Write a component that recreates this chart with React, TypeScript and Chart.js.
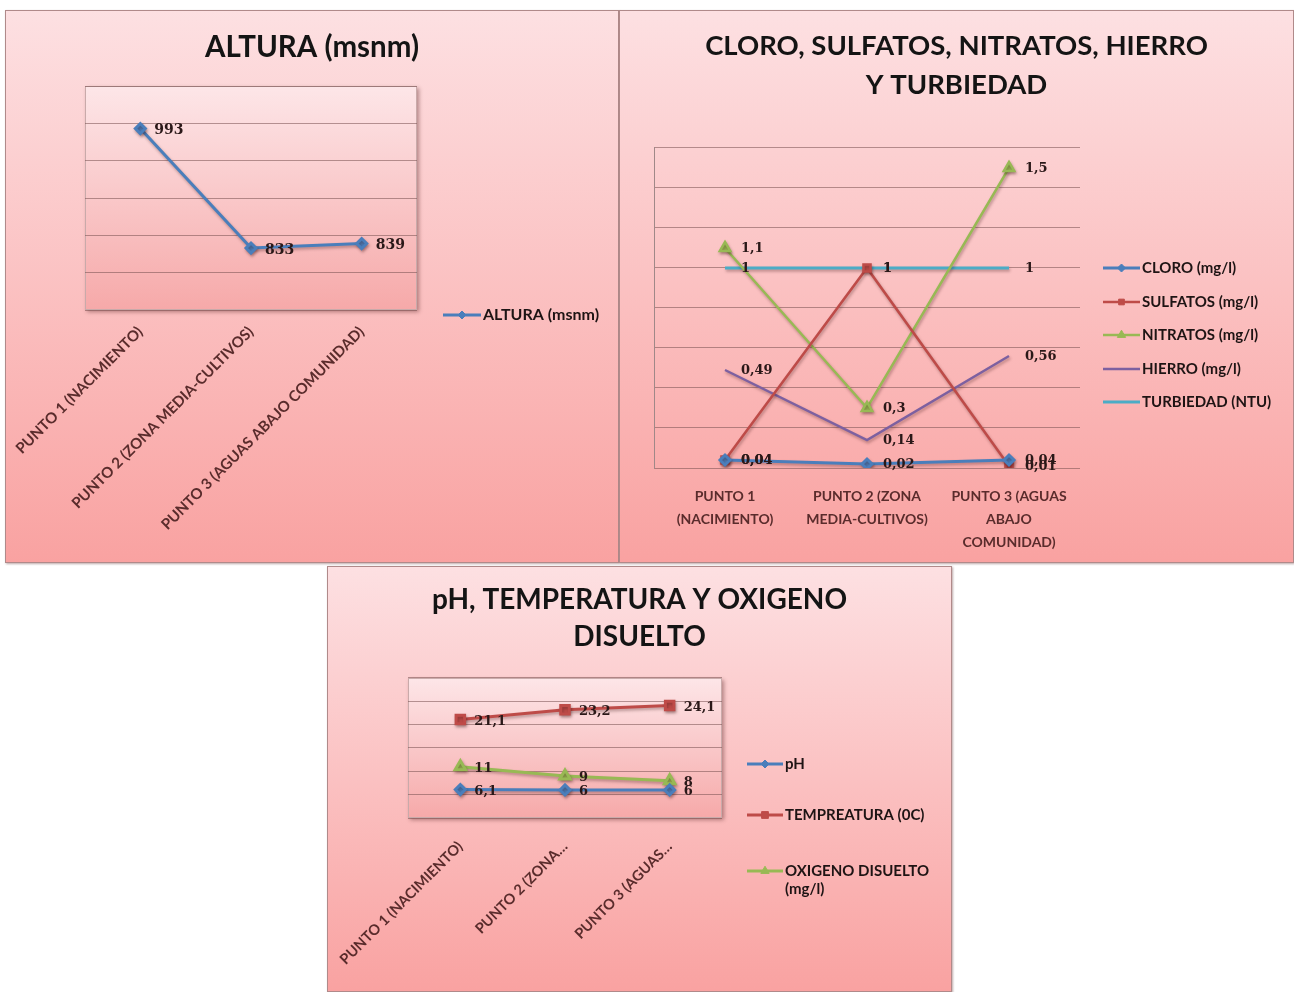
import React, { useEffect, useRef } from "react";
import { Chart, registerables } from "chart.js";
import { drawPoint } from "chart.js/helpers";

Chart.register(...registerables);

// Puntos de muestreo (etiquetas de categoría)
const puntosLargos = [
  "PUNTO 1 (NACIMIENTO)",
  "PUNTO 2 (ZONA MEDIA-CULTIVOS)",
  "PUNTO 3 (AGUAS ABAJO COMUNIDAD)",
];
const puntosEnLineas = [
  ["PUNTO 1", "(NACIMIENTO)"],
  ["PUNTO 2 (ZONA", "MEDIA-CULTIVOS)"],
  ["PUNTO 3 (AGUAS", "ABAJO", "COMUNIDAD)"],
];
const puntosCortos = ["PUNTO 1 (NACIMIENTO)", "PUNTO 2 (ZONA…", "PUNTO 3 (AGUAS…"];

// Altura sobre el nivel del mar
const altura = [993, 833, 839];

// Parámetros químicos
const cloro = [0.04, 0.02, 0.04];
const sulfatos = [0.04, 1, 0.01];
const nitratos = [1.1, 0.3, 1.5];
const hierro = [0.49, 0.14, 0.56];
const turbiedad = [1, 1, 1];

// Parámetros físicos
const ph = [6.1, 6, 6];
const temperatura = [21.1, 23.2, 24.1];
const oxigeno = [11, 9, 8];

// Rangos de los ejes verticales (ocultos)
const alturaEje = { min: 750, max: 1050, step: 50 };
const quimicosEje = { min: 0, max: 1.6, step: 0.2 };
const fisicosEje = { min: 0, max: 30, step: 5 };

const AZUL = "#4A7EBB";
const ROJO = "#BE4B48";
const VERDE = "#98B954";
const MORADO = "#7D60A0";
const CELESTE = "#4BACC6";

const TITLE_FONT = "Lato";
const TEXT_FONT = "Lato";
const LABEL_FONT = '"DejaVu Serif"';
const GRID = "rgba(120, 80, 80, 0.55)";

const coma = (v: number) => String(v).replace(".", ",");

// Fondo con degradado y marco del área de trazado
const plotFrame = {
  id: "plotFrame",
  beforeDraw(chart: any, _a: any, opts: any) {
    if (!opts.enabled) return;
    const { ctx } = chart;
    const { left, top, right, bottom } = chart.chartArea;
    ctx.save();
    ctx.shadowColor = "rgba(90, 40, 40, 0.45)";
    ctx.shadowBlur = 4;
    ctx.shadowOffsetX = 2;
    ctx.shadowOffsetY = 2;
    const g = ctx.createLinearGradient(0, top, 0, bottom);
    g.addColorStop(0, "#fde6e8");
    g.addColorStop(1, "#f6a9a9");
    ctx.fillStyle = g;
    ctx.fillRect(left, top, right - left, bottom - top);
    ctx.restore();
    ctx.save();
    ctx.strokeStyle = "#c9aaaa";
    ctx.lineWidth = 1;
    ctx.strokeRect(left + 0.5, top + 0.5, right - left - 1, bottom - top - 1);
    ctx.restore();
  },
};

// Sombra de las líneas y etiquetas de valor a la derecha de cada punto
const valueLabels = {
  id: "valueLabels",
  beforeDatasetsDraw(chart: any) {
    const { ctx } = chart;
    ctx.save();
    ctx.shadowColor = "rgba(60, 20, 20, 0.35)";
    ctx.shadowBlur = 3;
    ctx.shadowOffsetX = 1;
    ctx.shadowOffsetY = 2;
  },
  afterDatasetsDraw(chart: any, _a: any, opts: any) {
    const { ctx } = chart;
    ctx.restore();
    ctx.save();
    ctx.font = opts.font;
    ctx.fillStyle = opts.color;
    ctx.textAlign = "left";
    ctx.textBaseline = "middle";
    chart.data.datasets.forEach((ds: any, i: number) => {
      const meta = chart.getDatasetMeta(i);
      meta.data.forEach((pt: any, j: number) => {
        const v = ds.data[j];
        ctx.fillText(opts.format(v), pt.x + opts.dx, pt.y + (opts.dy || 0));
      });
    });
    ctx.restore();
  },
};

// Leyenda lateral
const sideLegend = {
  id: "sideLegend",
  afterDraw(chart: any, _a: any, opts: any) {
    const { ctx } = chart;
    ctx.save();
    ctx.font = opts.font;
    chart.data.datasets.forEach((ds: any, i: number) => {
      const y = opts.ys[i];
      ctx.save();
      ctx.strokeStyle = ds.borderColor;
      ctx.lineWidth = ds.borderWidth;
      ctx.beginPath();
      ctx.moveTo(opts.x, y);
      ctx.lineTo(opts.x + opts.len, y);
      ctx.stroke();
      if (ds.pointRadius > 0) {
        ctx.fillStyle = ds.pointBackgroundColor;
        ctx.strokeStyle = ds.pointBorderColor;
        ctx.lineWidth = 1;
        drawPoint(
          ctx,
          { pointStyle: ds.pointStyle, radius: ds.pointRadius * 0.8, rotation: 0, borderWidth: 1 },
          opts.x + opts.len / 2,
          y
        );
      }
      ctx.restore();
      // ajuste de texto por palabras
      const words = String(ds.label).split(" ");
      const lines: string[] = [];
      let cur = "";
      words.forEach((w) => {
        const t = cur ? cur + " " + w : w;
        if (cur && ctx.measureText(t).width > opts.maxWidth) {
          lines.push(cur);
          cur = w;
        } else cur = t;
      });
      lines.push(cur);
      ctx.fillStyle = opts.color;
      ctx.textAlign = "left";
      ctx.textBaseline = "middle";
      lines.forEach((ln, k) => ctx.fillText(ln, opts.x + opts.len + 2, y + k * opts.lineHeight));
    });
    ctx.restore();
  },
};

const serie = (label: string, data: number[], color: string, style: any, radius: number, width = 3) => ({
  label,
  data,
  borderColor: color,
  backgroundColor: color,
  pointBackgroundColor: color,
  pointBorderColor: color,
  pointStyle: style,
  pointRadius: radius,
  borderWidth: width,
  tension: 0,
});

// Eje vertical sin marcas; su ancho reserva el margen izquierdo del área de trazado
const hiddenY = (eje: { min: number; max: number; step: number }, border: boolean, width: number) => ({
  min: eje.min,
  max: eje.max,
  ticks: { display: false, stepSize: eje.step },
  grid: { color: GRID, drawTicks: false, lineWidth: 1 },
  border: { display: border, color: "#a08888" },
  afterFit: (s: any) => {
    s.width = width;
  },
});

// Eje derecho vacío que reserva el espacio de la leyenda
const spacerY = (width: number) => ({
  position: "right",
  display: true,
  ticks: { display: false },
  grid: { display: false, drawTicks: false },
  border: { display: false },
  afterFit: (s: any) => {
    s.width = width;
  },
});

// Eje de categorías con altura fija; las etiquetas pueden salir hacia el margen
const categoryX = (height: number, ticks: any) => ({
  offset: true,
  grid: { display: false, drawTicks: false },
  border: { display: false },
  ticks: { autoSkip: false, color: "#5a2c2c", ...ticks },
  afterFit: (s: any) => {
    s.height = height;
    s.paddingLeft = 0;
    s.paddingRight = 0;
  },
});

const baseOptions = () => ({
  responsive: false,
  animation: false,
  events: [],
  layout: { padding: 0 },
});

function alturaConfig() {
  return {
    type: "line",
    data: {
      labels: puntosLargos,
      datasets: [serie("ALTURA (msnm)", altura, AZUL, "rectRot", 5, 3)],
    },
    plugins: [plotFrame, valueLabels, sideLegend],
    options: {
      ...baseOptions(),
      scales: {
        x: categoryX(252, {
          minRotation: 45,
          maxRotation: 45,
          padding: 13,
          font: { family: TEXT_FONT, size: 15, weight: "bold" },
        }),
        y: hiddenY(alturaEje, false, 79),
        y2: spacerY(201),
      },
      plugins: {
        legend: { display: false },
        tooltip: { enabled: false },
        title: {
          display: true,
          text: "ALTURA (msnm)",
          color: "#141414",
          font: { family: TITLE_FONT, size: 29.5, weight: "bold", lineHeight: 1.2 },
          padding: { top: 18.3, bottom: 21.3 },
        },
        plotFrame: { enabled: true },
        valueLabels: { dx: 14, dy: 2, font: `bold 14px ${LABEL_FONT}`, color: "#2a1818", format: (v: number) => String(v) },
        sideLegend: { x: 437, len: 38, ys: [304], font: `bold 16px ${TEXT_FONT}`, color: "#1e1414", maxWidth: 200, lineHeight: 16 },
      },
    },
  };
}

function quimicosConfig() {
  return {
    type: "line",
    data: {
      labels: puntosEnLineas,
      datasets: [
        serie("CLORO (mg/l)", cloro, AZUL, "rectRot", 5, 3),
        serie("SULFATOS (mg/l)", sulfatos, ROJO, "rect", 5, 2.5),
        serie("NITRATOS (mg/l)", nitratos, VERDE, "triangle", 6, 2.5),
        serie("HIERRO (mg/l)", hierro, MORADO, "crossRot", 0, 2.5),
        serie("TURBIEDAD (NTU)", turbiedad, CELESTE, "star", 0, 3),
      ],
    },
    plugins: [plotFrame, valueLabels, sideLegend],
    options: {
      ...baseOptions(),
      scales: {
        x: categoryX(94, {
          maxRotation: 0,
          padding: 17.5,
          font: { family: TEXT_FONT, size: 14, weight: "bold", lineHeight: 1.64 },
        }),
        y: hiddenY(quimicosEje, true, 34),
        y2: spacerY(213),
      },
      plugins: {
        legend: { display: false },
        tooltip: { enabled: false },
        title: {
          display: true,
          text: ["CLORO, SULFATOS, NITRATOS, HIERRO", "Y TURBIEDAD"],
          color: "#141414",
          font: { family: TITLE_FONT, size: 27.5, weight: "bold", lineHeight: 1.418 },
          padding: { top: 15.5, bottom: 43.5 },
        },
        plotFrame: { enabled: false },
        valueLabels: { dx: 16, dy: 1, font: `bold 13px ${LABEL_FONT}`, color: "#2a1818", format: coma },
        sideLegend: {
          x: 483,
          len: 37,
          ys: [257, 291, 324, 358, 391],
          font: `bold 15px ${TEXT_FONT}`,
          color: "#1e1414",
          maxWidth: 200,
          lineHeight: 16,
        },
      },
    },
  };
}

function fisicosConfig() {
  return {
    type: "line",
    data: {
      labels: puntosCortos,
      datasets: [
        serie("pH", ph, AZUL, "rectRot", 5, 3),
        serie("TEMPREATURA (0C)", temperatura, ROJO, "rect", 6, 3),
        serie("OXIGENO DISUELTO (mg/l)", oxigeno, VERDE, "triangle", 6, 3),
      ],
    },
    plugins: [plotFrame, valueLabels, sideLegend],
    options: {
      ...baseOptions(),
      scales: {
        x: categoryX(173, {
          minRotation: 45,
          maxRotation: 45,
          padding: 20,
          font: { family: TEXT_FONT, size: 14.5, weight: "bold" },
        }),
        y: hiddenY(fisicosEje, false, 80),
        y2: spacerY(229),
      },
      plugins: {
        legend: { display: false },
        tooltip: { enabled: false },
        title: {
          display: true,
          text: ["pH, TEMPERATURA Y OXIGENO", "DISUELTO"],
          color: "#141414",
          font: { family: TITLE_FONT, size: 28, weight: "bold", lineHeight: 1.321 },
          padding: { top: 14.5, bottom: 22.5 },
        },
        plotFrame: { enabled: true },
        valueLabels: { dx: 14, dy: 2, font: `bold 13px ${LABEL_FONT}`, color: "#2a1818", format: coma },
        sideLegend: {
          x: 419,
          len: 36,
          ys: [197, 248, 304],
          font: `bold 15px ${TEXT_FONT}`,
          color: "#1e1414",
          maxWidth: 160,
          lineHeight: 18,
        },
      },
    },
  };
}

type PanelProps = { left: number; top: number; width: number; height: number; build: () => any };

function Panel({ left, top, width, height, build }: PanelProps) {
  const ref = useRef<HTMLCanvasElement>(null);
  useEffect(() => {
    const chart = new Chart(ref.current as HTMLCanvasElement, build());
    return () => chart.destroy();
  }, []);
  return (
    <div
      style={{
        position: "absolute",
        left,
        top,
        width,
        height,
        boxSizing: "border-box",
        border: "1px solid #b08a8a",
        background: "linear-gradient(#fde0e2, #f9a2a1)",
        boxShadow: "1px 1px 2px rgba(90, 40, 40, 0.4)",
      }}
    >
      <canvas ref={ref} width={width - 2} height={height - 2} style={{ display: "block" }} />
    </div>
  );
}

export default function App() {
  return (
    <div
      style={{
        position: "absolute",
        left: 0,
        top: 0,
        width: 1294,
        height: 992,
        overflow: "hidden",
        background: "#ffffff",
      }}
    >
      <Panel left={5} top={10} width={614} height={553} build={alturaConfig} />
      <Panel left={619} top={10} width={675} height={553} build={quimicosConfig} />
      <Panel left={327} top={566} width={625} height={426} build={fisicosConfig} />
    </div>
  );
}
